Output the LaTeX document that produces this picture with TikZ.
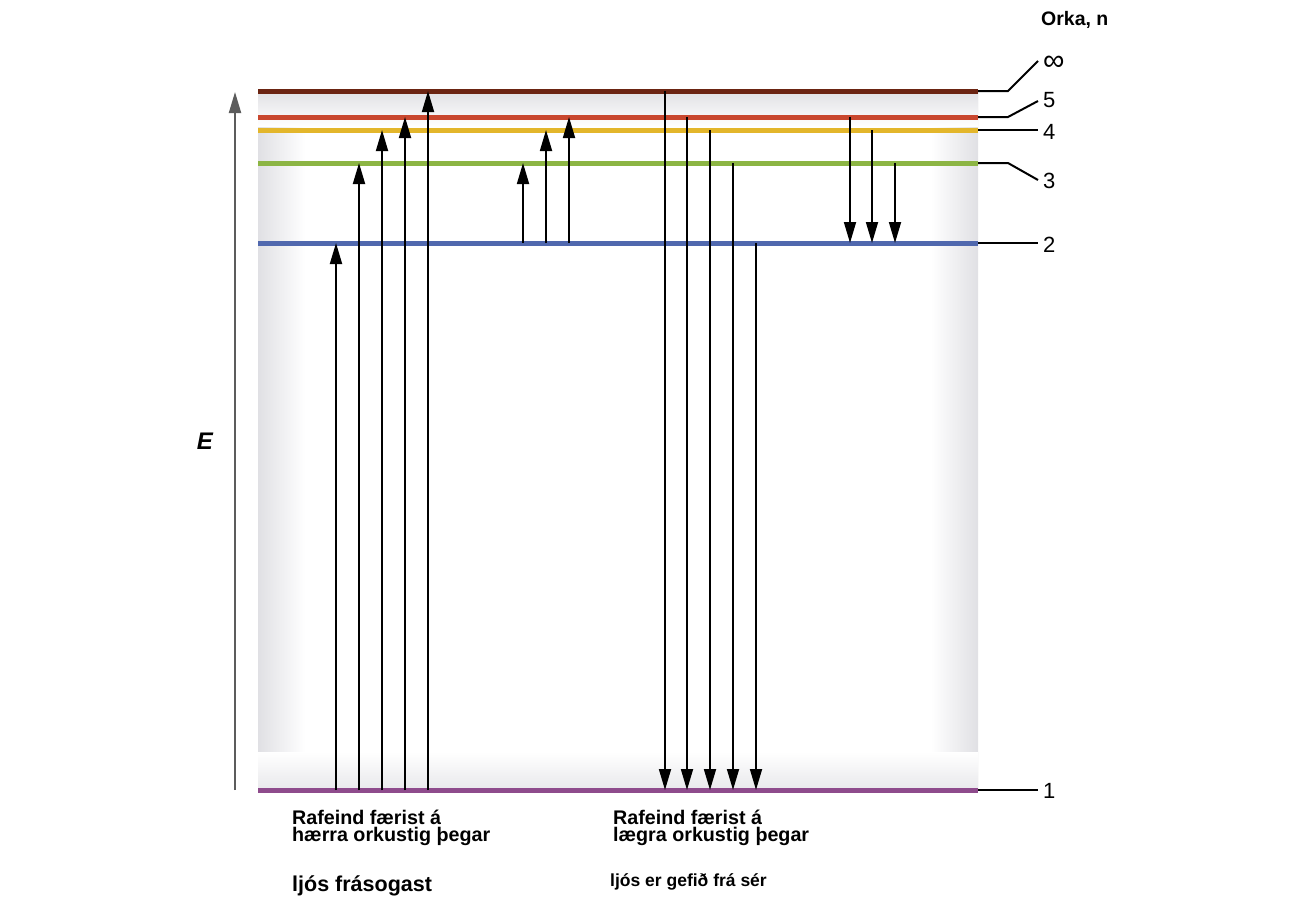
\documentclass[tikz,border=0pt]{standalone}
\usepackage{fontspec}
\setmainfont{Liberation Sans}
\usetikzlibrary{arrows.meta}
\definecolor{cinf}{HTML}{6B2412}
\definecolor{cfive}{HTML}{C9472E}
\definecolor{cfour}{HTML}{E3B62B}
\definecolor{cthree}{HTML}{8CB544}
\definecolor{ctwo}{HTML}{5068AE}
\definecolor{cone}{HTML}{8E4B8C}
\definecolor{bgedge}{HTML}{E0E0E4}
\definecolor{bgbottom}{HTML}{E8E8EB}
\definecolor{axisgray}{HTML}{5C5C5C}
\begin{document}
\begin{tikzpicture}[x=1pt,y=-1pt,
  lvl/.style={line width=5pt},
  tickline/.style={line width=2pt, black},
  trans/.style={line width=1.8pt, black, -{Triangle[length=21pt,width=12pt]}},
  numlab/.style={anchor=base west, inner sep=0pt, font=\fontsize{22}{26}\selectfont},
  captxt/.style={anchor=base west, inner sep=0pt, align=left, font=\fontsize{19.7}{17}\selectfont\bfseries}]
\useasboundingbox (0,0) rectangle (1300,900);
% background
\fill[white] (0,0) rectangle (1300,900);
\fill[white] (258,91) rectangle (978,790);
\shade[left color=bgedge, right color=white] (258,91) rectangle (305,790);
\shade[left color=white, right color=bgedge] (931,91) rectangle (978,790);
\shade[top color=bgedge, bottom color=white] (258,91) rectangle (978,126);
\shade[top color=white, bottom color=bgbottom] (258,752) rectangle (978,790);
% level coordinates
\coordinate (Linfa) at (258,91);  \coordinate (Linfb) at (978,91);
\coordinate (Lfivea) at (258,117); \coordinate (Lfiveb) at (978,117);
\coordinate (Lfoura) at (258,130); \coordinate (Lfourb) at (978,130);
\coordinate (Lthreea) at (258,163); \coordinate (Lthreeb) at (978,163);
\coordinate (Ltwoa) at (258,243); \coordinate (Ltwob) at (978,243);
\coordinate (Lonea) at (258,790); \coordinate (Loneb) at (978,790);
\draw[lvl, cinf] (Linfa) -- (Linfb);
\draw[lvl, cfive] (Lfivea) -- (Lfiveb);
\draw[lvl, cfour] (Lfoura) -- (Lfourb);
\draw[lvl, cthree] (Lthreea) -- (Lthreeb);
\draw[lvl, ctwo] (Ltwoa) -- (Ltwob);
\draw[lvl, cone] (Lonea) -- (Loneb);
% label leaders
\coordinate (Kinf) at (1008,91); \coordinate (Einf) at (1038,61);
\coordinate (Kfive) at (1008,117); \coordinate (Efive) at (1038,101);
\coordinate (Efour) at (1038,130);
\coordinate (Kthree) at (1008,163); \coordinate (Ethree) at (1038,180);
\coordinate (Etwo) at (1038,243);
\coordinate (Eone) at (1038,790);
\draw[tickline] (Linfb) -- (Kinf) -- (Einf);
\draw[tickline] (Lfiveb) -- (Kfive) -- (Efive);
\draw[tickline] (Lfourb) -- (Efour);
\draw[tickline] (Lthreeb) -- (Kthree) -- (Ethree);
\draw[tickline] (Ltwob) -- (Etwo);
\draw[tickline] (Loneb) -- (Eone);
\node[numlab, font=\fontsize{30}{34}\selectfont] (ninf) at (1043,70.5) {∞};
\node[numlab] (nfive) at (1043,107) {5};
\node[numlab] (nfour) at (1043,139) {4};
\node[numlab] (nthree) at (1043,188) {3};
\node[numlab] (ntwo) at (1043,252) {2};
\node[numlab] (none) at (1043,798) {1};
\node[anchor=base west, inner sep=0pt, font=\fontsize{19.5}{22}\selectfont\bfseries] (orka) at (1041,25) {Orka, n};
% energy axis
\coordinate (Ebot) at (235,790); \coordinate (Etop) at (235,92);
\draw[line width=2pt, axisgray, -{Triangle[length=21pt,width=12pt]}] (Ebot) -- (Etop);
\node[inner sep=0pt, font=\fontsize{24}{28}\selectfont\bfseries\itshape] (elab) at (205,441) {E};
% absorption from n=1
\foreach \x/\t [count=\i] in {336/243,359/163,382/130,405/117,428/91}{
  \coordinate (ab\i) at (\x,790); \coordinate (at\i) at (\x,\t);
  \draw[trans] (ab\i) -- (at\i);
}
% absorption from n=2
\foreach \x/\t [count=\i] in {523/163,546/130,569/117}{
  \coordinate (bb\i) at (\x,243); \coordinate (bt\i) at (\x,\t);
  \draw[trans] (bb\i) -- (bt\i);
}
% emission to n=1
\foreach \x/\t [count=\i] in {665/91,687/117,710/130,733/163,756/243}{
  \coordinate (cs\i) at (\x,\t); \coordinate (ce\i) at (\x,790);
  \draw[trans] (cs\i) -- (ce\i);
}
% emission to n=2
\foreach \x/\t [count=\i] in {850/117,872/130,895/163}{
  \coordinate (ds\i) at (\x,\t); \coordinate (de\i) at (\x,243);
  \draw[trans] (ds\i) -- (de\i);
}
% captions
\node[captxt] (c1) at (292,841) {Rafeind færist á\\hærra orkustig þegar};
\node[captxt] (c2) at (613,841) {Rafeind færist á\\lægra orkustig þegar};
\node[anchor=base west, inner sep=0pt, font=\fontsize{21.5}{24}\selectfont\bfseries] (c3) at (292,891) {ljós frásogast};
\node[anchor=base west, inner sep=0pt, font=\fontsize{17.5}{20}\selectfont\bfseries] (c4) at (610,886) {ljós er gefið frá sér};
\end{tikzpicture}
\end{document}
